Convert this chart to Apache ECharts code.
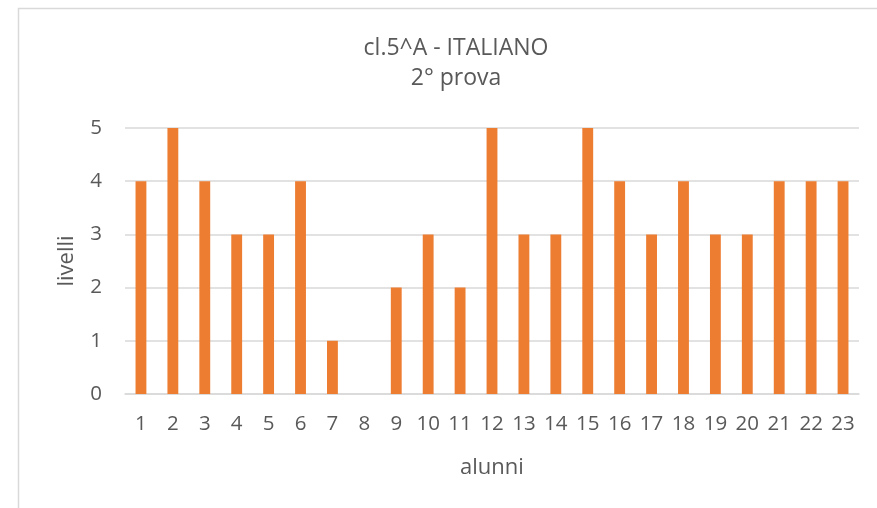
<!DOCTYPE html>
<html><head><meta charset="utf-8">
<script src="https://cdn.jsdelivr.net/npm/echarts@6/dist/echarts.min.js"></script>
<style>html,body{margin:0;padding:0;background:#fff}#c{width:877px;height:508px}</style>
</head><body><div id="c"></div>
<script>
const categories = ['1','2','3','4','5','6','7','8','9','10','11','12','13','14','15','16','17','18','19','20','21','22','23'];
const livelli = [4,5,4,3,3,4,1,0,2,3,2,5,3,3,5,4,3,4,3,3,4,4,4];
const titleLines = ['cl.5^A - ITALIANO', '2° prova'];
const yTicks = {min: 0, max: 5, interval: 1};

const FONT = 'Open Sans';
const chart = echarts.init(document.getElementById('c'), null, {renderer: 'canvas'});
chart.setOption({
  animation: false,
  backgroundColor: '#fff',
  graphic: [{
    type: 'rect', left: 16, top: 6,
    shape: {width: 900, height: 600},
    style: {fill: 'none', stroke: '#d9d9d9', lineWidth: 1.5}
  }],
  title: {
    text: titleLines.join('\n'),
    left: 451, top: 28, textAlign: 'center',
    textStyle: {fontFamily: FONT, fontSize: 23, fontWeight: 'normal', color: '#595959', lineHeight: 30}
  },
  grid: {left: 125, right: 18, top: 128, bottom: 114, containLabel: false},
  xAxis: {
    type: 'category', data: categories,
    name: 'alunni', nameLocation: 'middle', nameGap: 63,
    nameTextStyle: {fontFamily: FONT, fontSize: 22, color: '#595959'},
    axisLine: {lineStyle: {color: '#d9d9d9', width: 1.5}},
    axisTick: {show: false},
    axisLabel: {fontFamily: FONT, fontSize: 20.5, color: '#595959', margin: 20, interval: 0}
  },
  yAxis: {
    type: 'value', min: yTicks.min, max: yTicks.max, interval: yTicks.interval,
    name: 'livelli', nameLocation: 'middle', nameGap: 47, nameRotate: 90,
    nameTextStyle: {fontFamily: FONT, fontSize: 22, color: '#595959'},
    axisLine: {show: false}, axisTick: {show: false},
    splitLine: {lineStyle: {color: '#d9d9d9', width: 1.5}},
    axisLabel: {fontFamily: FONT, fontSize: 20.5, color: '#595959', margin: 23}
  },
  series: [{
    type: 'bar', data: livelli, barWidth: '34%',
    itemStyle: {color: '#ed7d31'}
  }]
});
</script></body></html>
